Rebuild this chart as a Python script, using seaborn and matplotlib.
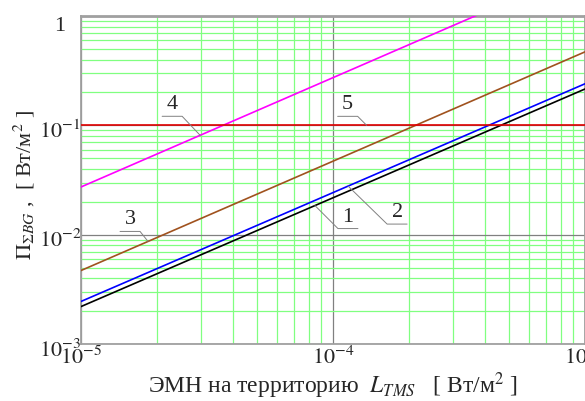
import numpy as np
import pandas as pd
import seaborn as sns
import matplotlib.pyplot as plt
import matplotlib.ticker as mticker
import matplotlib.transforms as mtrans

# Data (values at the two ends of the x range)
x_vals = [1e-5, 1e-3]
curve_1 = [2.2e-3, 0.215]    # black
curve_2 = [2.45e-3, 0.24]    # blue
curve_3 = [4.7e-3, 0.47]     # brown
curve_4 = [0.0273, 2.73]     # magenta
curve_5 = [0.1, 0.1]         # red level

curve_names = ["1", "2", "3", "4", "5"]
curve_colors = ["#000000", "#0000ff", "#a0521e", "#ff00ff", "#e00000"]

x_ticks = [1e-5, 1e-4, 1e-3]
x_tick_labels = [r"$10^{-5}$", r"$10^{-4}$", r"$10^{-3}$"]
y_ticks = [1e-3, 1e-2, 1e-1, 1]
y_tick_labels = [r"$10^{-3}$", r"$10^{-2}$", r"$10^{-1}$", "1"]

sns.set_style("white")
plt.rcParams["font.family"] = ["Liberation Serif", "DejaVu Serif"]
plt.rcParams["mathtext.fontset"] = "stix"

df = pd.concat([
    pd.DataFrame({"x": x_vals, "y": ys, "curve": name})
    for name, ys in zip(curve_names, [curve_1, curve_2, curve_3, curve_4, curve_5])
])

fig = plt.figure(figsize=(5.85, 4.01), dpi=100)
ax = fig.add_axes([81 / 585, 1 - 344 / 401, 504 / 585, 328 / 401])

sns.lineplot(data=df, x="x", y="y", hue="curve", palette=dict(zip(curve_names, curve_colors)),
             legend=False, linewidth=1.2, ax=ax, zorder=3)

ax.set_xscale("log")
ax.set_yscale("log")
ax.set_xlim(1e-5, 1e-3)
ax.set_ylim(1e-3, 1)

# grid: green minor lines, gray decades
ax.xaxis.set_minor_locator(mticker.LogLocator(base=10, subs=np.arange(2, 10), numticks=20))
ax.yaxis.set_minor_locator(mticker.LogLocator(base=10, subs=np.arange(2, 10), numticks=20))
ax.grid(which="minor", color="#80ff80", linewidth=0.9)
ax.grid(which="major", color="#808080", linewidth=0.9)
ax.set_axisbelow(True)

ax.set_xticks(x_ticks)
ax.set_xticklabels(x_tick_labels)
ax.set_yticks(y_ticks)
ax.set_yticklabels(y_tick_labels, ha="center")
ax.tick_params(axis="both", which="both", length=0, labelsize=16)
ax.tick_params(axis="x", pad=2)
ax.tick_params(axis="y", pad=15)

# y tick labels sit a little below their gridlines in the reference
for lab in ax.get_yticklabels():
    shift = -8 if lab.get_text() == "1" else -4
    lab.set_transform(lab.get_transform() + mtrans.ScaledTranslation(0, shift / fig.dpi, fig.dpi_scale_trans))

for side in ["left", "bottom", "top", "right"]:
    ax.spines[side].set_color("#a0a0a0")
    ax.spines[side].set_linewidth(1.3)
ax.spines["top"].set_linewidth(2)

ax.set_xlabel(r"ЭМН на территорию  $L_{TMS}$   [ Вт/м$^2$ ]", fontsize=17)
ax.set_ylabel(r"$\Pi_{\mathit{\Sigma BG}}$ ,  [ Вт/м$^2$ ]", fontsize=16)
ax.xaxis.set_label_coords(0.5, -0.081)
ax.yaxis.set_label_coords(-0.087, 0.485)

# numbered leader labels: (text, curve, x on curve, elbow offset px, shelf length px)
labels = [
    ("4", curve_4, 2.97e-5, -18, 19, -20),
    ("5", curve_5, 1.36e-4, -9, 9, -20),
    ("3", curve_3, 1.845e-5, -8, 10, -20),
    ("1", curve_1, 8.48e-5, 23, -23, 20),
    ("2", curve_2, 1.148e-4, 39, -38, 20),
]
inv = ax.transData.inverted()
for text, ys, xt, dx, dy, w in labels:
    yt = np.exp(np.interp(np.log(xt), np.log(x_vals), np.log(ys)))
    px, py = ax.transData.transform((xt, yt))
    pts = inv.transform([(px, py), (px + dx, py + dy), (px + dx + w, py + dy)])
    ax.plot(pts[:, 0], pts[:, 1], color="#808080", linewidth=0.7, zorder=4)
    tx, ty = inv.transform((px + dx + w / 2, py + dy + 2))
    ax.text(tx, ty, text, fontsize=16, ha="center", va="bottom", zorder=5)

fig.savefig("out.png", dpi=100)
